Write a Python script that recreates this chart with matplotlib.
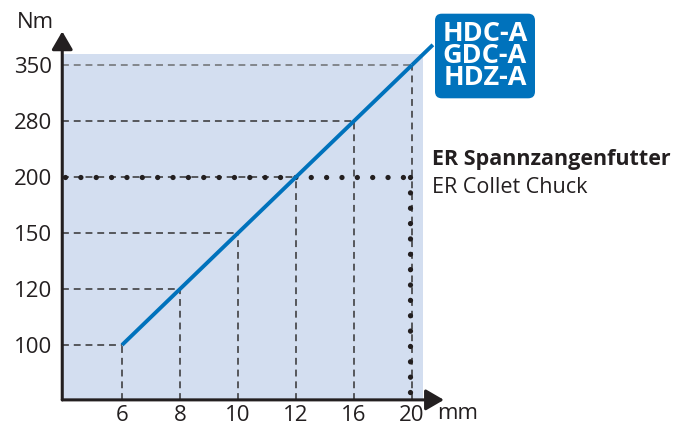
import matplotlib.pyplot as plt
from matplotlib.patches import Rectangle

plt.rcParams['font.family'] = ['Open Sans', 'DejaVu Sans']

# Spannweite (mm) und Drehmoment (Nm)
diameters = [6, 8, 10, 12, 16, 20]
torque = [100, 120, 150, 200, 280, 350]
torque_ticks = [100, 120, 150, 200, 280, 350]

# ER Spannzangenfutter: max. 200 Nm bis 20 mm
er_limit_torque = 200
er_limit_diameter = 20

series_label = "HDC-A\nGDC-A\nHDZ-A"
er_title = "ER Spannzangenfutter"
er_subtitle = "ER Collet Chuck"

BLUE = '#0072BC'
DARK = '#231f20'
SHADE = '#D3DEF0'

fig = plt.figure(figsize=(6.88, 4.28), dpi=100)

# Achsenbereich in Index-Koordinaten (gleichmaessige Abstaende)
x0, x1 = -1.03, 5.55
y0, y1 = -0.98, 5.6
W, H = 688, 428
left_px = 122 + 58 * x0
right_px = 122 + 58 * x1
bottom_px = 345 - 56 * y0
top_px = 345 - 56 * y1
ax = fig.add_axes([left_px / W, 1 - bottom_px / H,
                   (right_px - left_px) / W, (bottom_px - top_px) / H])
ax.set_xlim(x0, x1)
ax.set_ylim(y0, y1)
for s in ax.spines.values():
    s.set_visible(False)
ax.patch.set_alpha(0)

xi = list(range(len(diameters)))
yi = [torque_ticks.index(t) for t in torque]

# Hintergrundflaeche
ax.add_patch(Rectangle((x0, y0), 5.19 - x0, 5.2 - y0, fc=SHADE, ec='none', zorder=0))

# Hilfslinien zu jedem Punkt
for i, (x, y) in enumerate(zip(xi, yi)):
    hcol = '#6d6e71' if i == len(xi) - 1 else '#333333'
    ax.plot([x0, x], [y, y], color=hcol, lw=1.1, dashes=(4.5, 3.2), zorder=1)
    ax.plot([x, x], [y0, y], color='#333333', lw=1.1, dashes=(4.5, 3.2), zorder=1)

# ER Grenze (punktiert)
ex = diameters.index(er_limit_diameter) - 0.04
ey = torque_ticks.index(er_limit_torque)
dot = dict(color=DARK, lw=3.8, linestyle=(0, (0.01, 2.9)),
           dash_capstyle='round', solid_capstyle='round', zorder=3)
ax.plot([x0 + 0.05, ex], [ey, ey], **dot)
ax.plot([ex, ex], [ey, y0 + 0.05], **dot)

# Kennlinie
ax.plot(xi, yi, color=BLUE, lw=2.8, solid_capstyle='butt', zorder=4)
# Verlaengerung bis zum Label
dx, dy = xi[-1] - xi[-2], yi[-1] - yi[-2]
ax.plot([xi[-1], xi[-1] + 0.36 * dx], [yi[-1], yi[-1] + 0.36 * dy],
        color=BLUE, lw=2.8, solid_capstyle='butt', zorder=4, clip_on=False)

# Achsen mit Pfeilen
arrow = dict(arrowstyle='-|>,head_length=0.55,head_width=0.32', lw=2.2,
             color=DARK, mutation_scale=20, shrinkA=0, shrinkB=0)
ax.annotate('', xy=(x1, y0), xytext=(x0, y0), arrowprops=arrow, annotation_clip=False)
ax.annotate('', xy=(x0, y1), xytext=(x0, y0), arrowprops=arrow, annotation_clip=False)

ax.set_xticks(xi)
ax.set_xticklabels([str(d) for d in diameters])
ax.set_yticks(range(len(torque_ticks)))
ax.set_yticklabels([str(t) for t in torque_ticks])
ax.tick_params(length=0, labelsize=16, colors=DARK, pad=7)
ax.tick_params(axis='x', pad=4)

fig.text(35 / W, 1 - 22 / H, "Nm", ha='center', va='center', fontsize=16, color=DARK)
fig.text(437 / W, 1 - 403 / H, "mm", ha='left', va='top', fontsize=16, color=DARK)

fig.text(485 / W, 1 - 56 / H, series_label, ha='center', va='center',
         fontsize=19.5, fontweight='bold', color='white', linespacing=0.8,
         bbox=dict(boxstyle='round,pad=0.27,rounding_size=0.25', fc=BLUE, ec='none'))

fig.text(432 / W, 1 - 160 / H, er_title, ha='left', va='center',
         fontsize=15.5, fontweight='bold', color=DARK)
fig.text(432 / W, 1 - 188 / H, er_subtitle, ha='left', va='center',
         fontsize=15.5, color=DARK)

fig.savefig('out.png', dpi=100)
